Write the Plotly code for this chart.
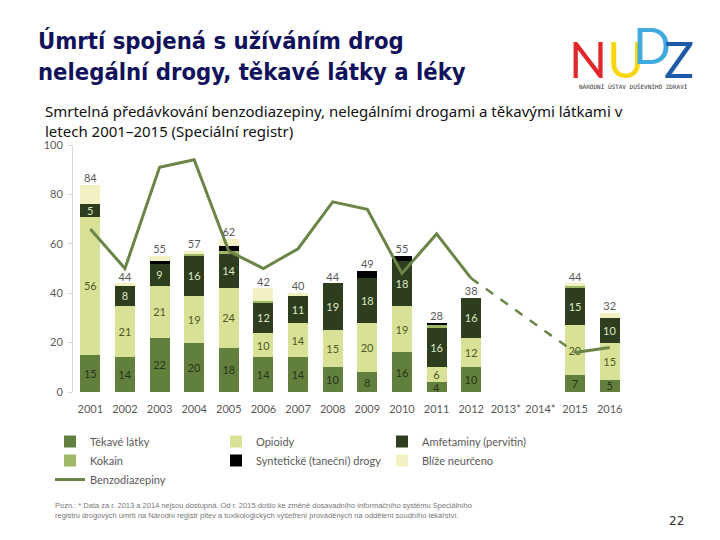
import plotly.graph_objects as go

years = ["2001", "2002", "2003", "2004", "2005", "2006", "2007", "2008",
         "2009", "2010", "2011", "2012", "2013*", "2014*", "2015", "2016"]

tekave = [15, 14, 22, 20, 18, 14, 14, 10, 8, 16, 4, 10, None, None, 7, 5]
opioidy = [56, 21, 21, 19, 24, 10, 14, 15, 20, 19, 6, 12, None, None, 20, 15]
amfetaminy = [5, 8, 9, 16, 14, 12, 11, 19, 18, 18, 16, 16, None, None, 15, 10]
kokain = [0, 0, 0, 1, 1, 1, 0, 0, 0, 0, 1, 0, None, None, 1, 0]
synteticke = [0, 0, 1, 0, 2, 0, 0, 0, 3, 2, 1, 0, None, None, 0, 0]
blize = [8, 1, 2, 1, 3, 5, 1, 0, 0, 0, 0, 0, None, None, 1, 2]
totals = [84, 44, 55, 57, 62, 42, 40, 44, 49, 55, 28, 38, None, None, 44, 32]
benzo = [66, 50, 91, 94, 57, 50, 58, 77, 74, 48, 64, 46, None, None, 16, 18]

C_TEK = "#62803d"
C_OPI = "#d8e196"
C_AMF = "#2d3d1d"
C_KOK = "#9fb865"
C_SYN = "#000000"
C_BLI = "#f2f1c2"
C_BEN = "#6b8447"

L, R, T, B = 73, 627, 145, 392
W, H = 720, 540


def px(x):
    return (x - L) / (R - L)


def py(y):
    return (B - y) / (B - T)


def lbl(vals):
    return [str(v) if v else "" for v in vals]


fig = go.Figure()
series = [
    ("Těkavé látky", tekave, C_TEK, True, "#26351a"),
    ("Opioidy", opioidy, C_OPI, True, "#4f5a25"),
    ("Amfetaminy (pervitin)", amfetaminy, C_AMF, True, "#dfe6c6"),
    ("Kokain", kokain, C_KOK, False, "#000"),
    ("Syntetické (taneční) drogy", synteticke, C_SYN, False, "#fff"),
    ("Blíže neurčeno", blize, C_BLI, False, "#000"),
]
for name, vals, col, show, tcol in series:
    fig.add_trace(go.Bar(
        x=years, y=vals, name=name, marker=dict(color=col, line=dict(width=0)),
        text=lbl(vals) if show else None,
        textposition="inside" if show else "none",
        insidetextanchor="middle", textangle=0,
        textfont=dict(color=tcol, size=11, family="Lato"),
        hoverinfo="skip",
    ))

fig.add_trace(go.Scatter(
    x=years, y=benzo, name="Benzodiazepiny", mode="lines",
    line=dict(color=C_BEN, width=3), connectgaps=False,
))
dashed = [v if yr in ("2012", "2015") else None for yr, v in zip(years, benzo)]
fig.add_trace(go.Scatter(
    x=years, y=dashed, mode="lines", showlegend=False,
    line=dict(color=C_BEN, width=2.5, dash="dash"), connectgaps=True,
))
fig.add_trace(go.Scatter(
    x=years, y=totals, mode="text", text=lbl(totals),
    textposition="top center", showlegend=False,
    textfont=dict(color="#595959", size=11, family="Lato"),
))

ann = []
ann.append(dict(x=px(36), y=py(25), xref="paper", yref="paper", xanchor="left",
                yanchor="top", align="left", showarrow=False,
                text="<b>Úmrtí spojená s užíváním drog<br>nelegální drogy, těkavé látky a léky</b>",
                font=dict(family="DejaVu Sans Condensed", size=23.6, color="#12125c")))
ann.append(dict(x=px(43), y=py(99), xref="paper", yref="paper", xanchor="left",
                yanchor="top", align="left", showarrow=False,
                text="Smrtelná předávkování benzodiazepiny, nelegálními drogami a těkavými látkami v<br>letech 2001–2015 (Speciální registr)",
                font=dict(family="Noto Sans", size=15, color="#111111")))
ann.append(dict(x=px(606), y=py(59), xref="paper", yref="paper", xanchor="center",
                yanchor="middle", showarrow=False,
                text="<span style='color:#e2262a'>N</span><span style='color:#f6d712'>U</span>",
                font=dict(family="Lato", size=50)))
ann.append(dict(x=px(652), y=py(45), xref="paper", yref="paper", xanchor="center",
                yanchor="middle", showarrow=False, text="D",
                font=dict(family="Lato", size=50, color="#3fa9e0")))
ann.append(dict(x=px(679), y=py(59), xref="paper", yref="paper", xanchor="center",
                yanchor="middle", showarrow=False, text="Z",
                font=dict(family="Lato", size=50, color="#1e5aa8")))
ann.append(dict(x=px(633), y=py(86), xref="paper", yref="paper", xanchor="center",
                yanchor="middle", showarrow=False,
                text="NÁRODNÍ ÚSTAV DUŠEVNÍHO ZDRAVÍ",
                font=dict(family="DejaVu Sans Mono", size=6, color="#333333")))
ann.append(dict(x=px(53), y=py(499), xref="paper", yref="paper", xanchor="left",
                yanchor="top", align="left", showarrow=False,
                text="Pozn.: * Data za r. 2013 a 2014 nejsou dostupná. Od r. 2015 došlo ke změně dosavadního informačního systému Speciálního<br>registru drogových úmrtí na Národní registr pitev a toxikologických vyšetření prováděných na oddělení soudního lékařství.",
                font=dict(family="Liberation Sans", size=7.5, color="#777777")))
ann.append(dict(x=px(676), y=py(521), xref="paper", yref="paper", xanchor="center",
                yanchor="middle", showarrow=False, text="22",
                font=dict(family="DejaVu Sans", size=12, color="#333333")))

fig.update_layout(
    width=W, height=H, barmode="stack", bargap=0.42,
    margin=dict(l=L, r=W - R, t=T, b=H - B, autoexpand=False),
    plot_bgcolor="white", paper_bgcolor="white",
    font=dict(family="Lato", size=11, color="#595959"),
    xaxis=dict(type="category", showline=False, ticks="", showgrid=False,
               tickfont=dict(size=11, color="#595959"), range=[-0.5, 15.5],
               ticklabelstandoff=9),
    yaxis=dict(range=[0, 100], dtick=20, showgrid=False, zeroline=False,
               showline=True, linecolor="#d9d9d9", linewidth=1,
               ticks="outside", ticklen=4, tickcolor="#d9d9d9",
               tickfont=dict(size=11, color="#595959"), ticklabelstandoff=3),
    legend=dict(orientation="h", x=px(50), y=py(427), xanchor="left", yanchor="top",
                entrywidth=121, itemwidth=30, traceorder="normal",
                font=dict(size=11, color="#595959"), bgcolor="rgba(0,0,0,0)"),
    uniformtext=dict(minsize=11, mode="show"),
    annotations=ann,
    showlegend=True,
)
fig.write_html("out.html", config={"displayModeBar": False},
               post_script="document.body.style.margin='0';document.body.style.padding='0';")
